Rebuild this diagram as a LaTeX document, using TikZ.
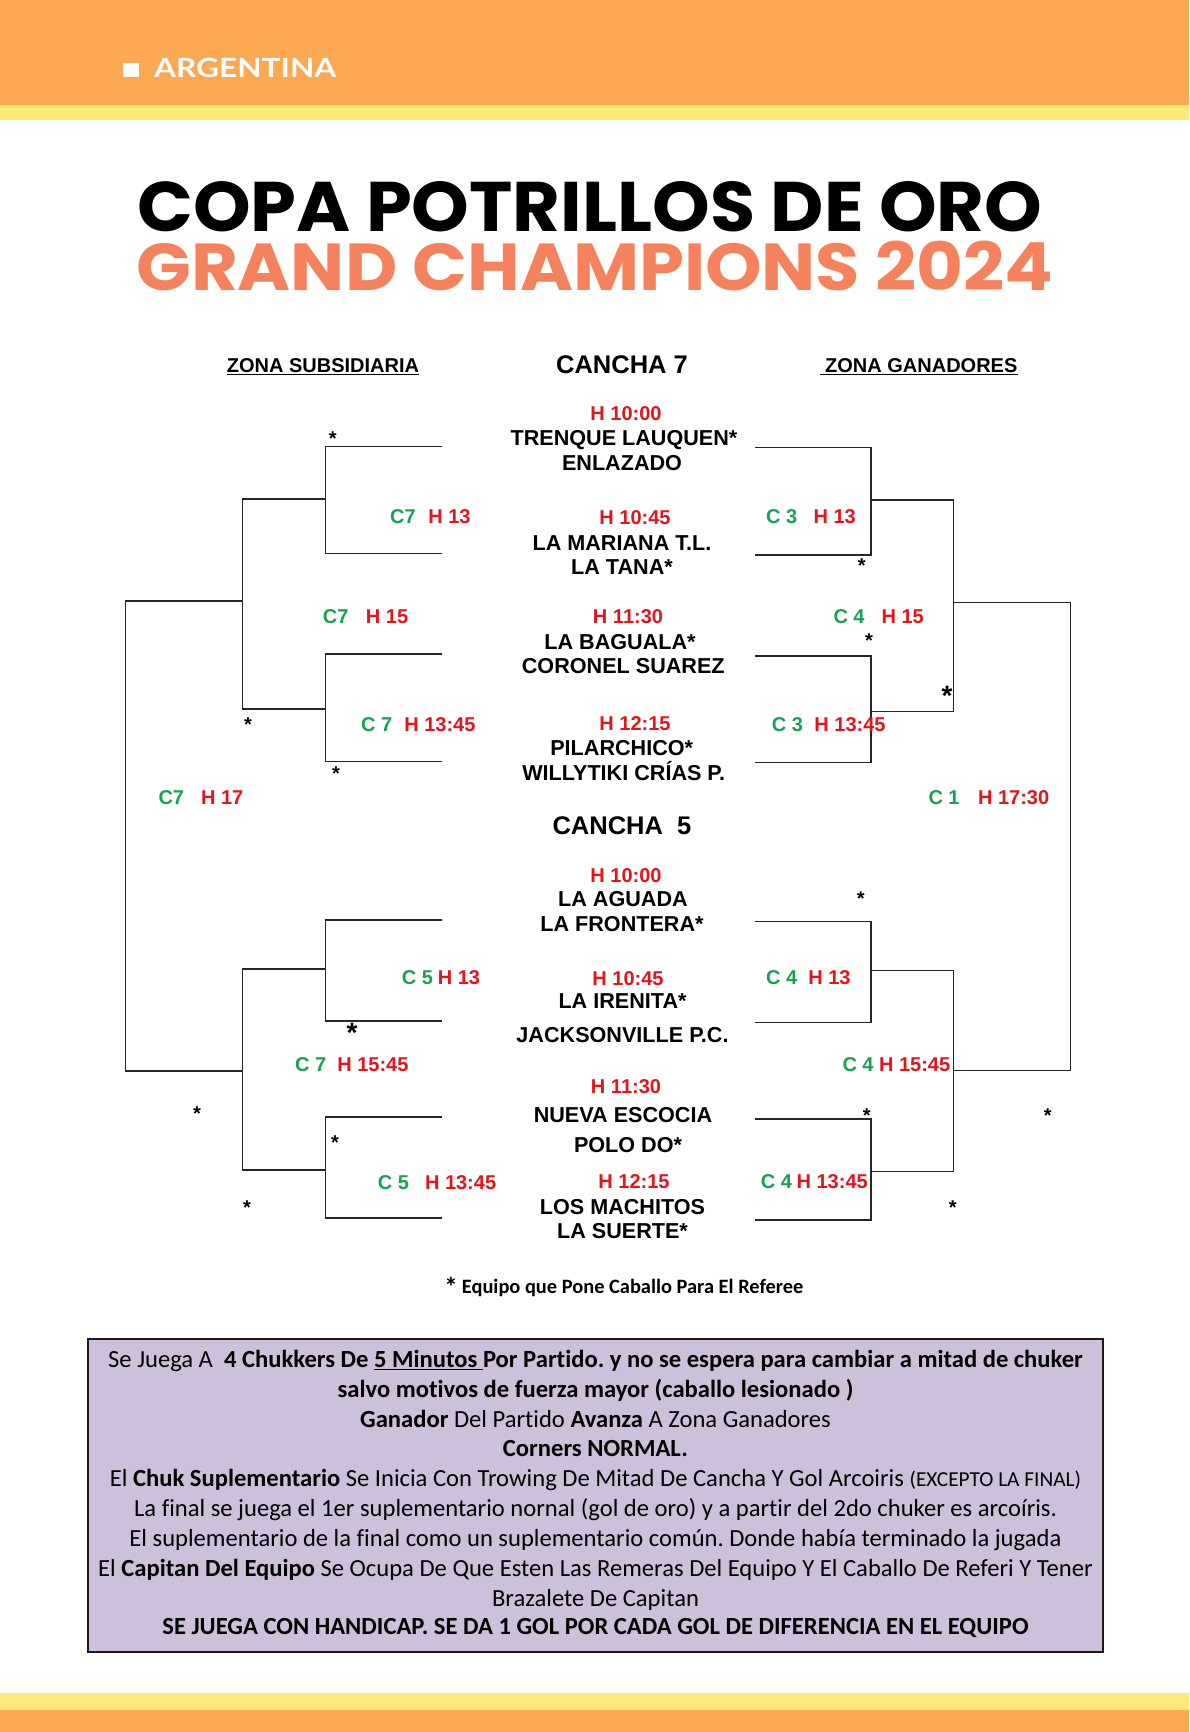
\documentclass[tikz,border=0pt]{standalone}
\usepackage{graphicx}
\usepackage{fontspec}
\setmainfont{Liberation Sans}
\newfontfamily\calib{Carlito}[Ligatures=NoCommon]
\newfontfamily\titlef{Poppins}
\newfontfamily\latof{Lato}
\definecolor{bandor}{HTML}{FDA852}
\definecolor{bandye}{HTML}{FDE878}
\definecolor{coral}{HTML}{F5815D}
\definecolor{grn}{HTML}{17A152}
\definecolor{rd}{HTML}{E2141C}
\definecolor{lav}{HTML}{CCC0DA}
\newcommand{\cG}[1]{\textcolor{grn}{#1}}
\newcommand{\cR}[1]{\textcolor{rd}{#1}}
\begin{document}
\frenchspacing
\begin{tikzpicture}[x=1pt,y=-1pt,
  br/.style={line width=1.4pt,draw=black!85},
  nm/.style={font=\fontsize{21.6}{24}\selectfont\bfseries,anchor=base,yshift=-7.7pt,inner sep=0pt},
  tm/.style={font=\fontsize{20}{24}\selectfont\bfseries,anchor=base,yshift=-7.2pt,inner sep=0pt,text=rd},
  lb/.style={font=\fontsize{20}{24}\selectfont\bfseries,anchor=base west,yshift=-7.2pt,inner sep=0pt},
  st/.style={font=\fontsize{20}{24}\selectfont\bfseries,anchor=north,inner sep=0pt},
  bst/.style={font=\fontsize{28}{30}\selectfont\bfseries,anchor=north,inner sep=0pt},
  hd/.style={font=\fontsize{20}{24}\selectfont\bfseries,anchor=base west,yshift=-7.2pt,inner sep=0pt},
  ca/.style={font=\fontsize{25.5}{28}\selectfont\bfseries,anchor=base,yshift=-9.1pt,inner sep=0pt},
  bx/.style={font=\calib\fontsize{24.6}{28}\selectfont,anchor=base,yshift=-7.9pt,inner sep=0pt},
]
\useasboundingbox (0,0) rectangle (1189,1732);
\fill[white] (0,0) rectangle (1189,1732);
% bands
\fill[bandor] (0,0) rectangle (1189,105);
\fill[bandye] (0,105) rectangle (1189,120);
\fill[bandye] (0,1693) rectangle (1189,1710);
\fill[bandor] (0,1710) rectangle (1189,1732);
\fill[white] (122.7,63) rectangle (139.3,77);
\node[anchor=base west,inner sep=0pt,text=white] (arg) at (154,77.3) {\resizebox{182pt}{19.3pt}{\latof\bfseries ARGENTINA}};
% titles
\node[anchor=base west,inner sep=0pt] (t1) at (137,231.7) {\resizebox{905pt}{50pt}{\titlef\bfseries COPA POTRILLOS DE ORO}};
\node[anchor=base west,inner sep=0pt,text=coral] (t2) at (136,290.5) {\resizebox{917pt}{49.5pt}{\titlef\bfseries GRAND CHAMPIONS 2024}};
% headers
\node[hd] (zs) at (226.7,365) {ZONA SUBSIDIARIA};
\draw[line width=1.5pt] ([yshift=-2pt]zs.south west) -- ([yshift=-2pt]zs.south east);
\node[hd] (zg) at (825,365) {ZONA GANADORES};
\draw[line width=1.5pt] ([xshift=-5pt,yshift=-2pt]zg.south west) -- ([yshift=-2pt]zg.south east);
\node[ca] (c7) at (622,364.5) {CANCHA 7};
\node[ca] (c5) at (622,825) {CANCHA\ \ 5};
% matches cancha 7
\node[tm] (h1) at (626,413) {H 10:00};
\node[nm] (n1) at (624,438) {TRENQUE LAUQUEN*};
\node[nm] (n2) at (622,463) {ENLAZADO};
\node[tm] (h2) at (635,517.7) {H 10:45};
\node[nm] (n3) at (622,543) {LA MARIANA T.L.};
\node[nm] (n4) at (622,567) {LA TANA*};
\node[tm] (h3) at (628,616.7) {H 11:30};
\node[nm] (n5) at (620,641.7) {LA BAGUALA*};
\node[nm] (n6) at (623.3,666) {CORONEL SUAREZ};
\node[tm] (h4) at (635,723) {H 12:15};
\node[nm] (n7) at (621.7,748) {PILARCHICO*};
\node[nm] (n8) at (623.7,773) {WILLYTIKI CRÍAS P.};
% matches cancha 5
\node[tm] (h5) at (626,875) {H 10:00};
\node[nm] (n9) at (623,899) {LA AGUADA};
\node[nm] (n10) at (622,923.5) {LA FRONTERA*};
\node[tm] (h6) at (628,978) {H 10:45};
\node[nm] (n11) at (622.5,1001) {LA IRENITA*};
\node[nm] (n12) at (622.5,1035) {JACKSONVILLE P.C.};
\node[tm] (h7) at (626,1086.7) {H 11:30};
\node[nm] (n13) at (623,1115) {NUEVA ESCOCIA};
\node[nm] (n14) at (628,1145) {POLO DO*};
\node[tm] (h8) at (634,1181.7) {H 12:15};
\node[nm] (n15) at (622.5,1206.7) {LOS MACHITOS};
\node[nm] (n16) at (622.5,1231) {LA SUERTE*};
% left bracket
\coordinate (LA1) at (442,446.7);
\coordinate (LA2) at (442,553.3);
\coordinate (LAm) at (325.7,499);
\coordinate (LB1) at (442,654);
\coordinate (LB2) at (442,761.3);
\coordinate (LBm) at (325.7,709);
\coordinate (LABm) at (242.7,601);
\coordinate (LC1) at (442,920);
\coordinate (LC2) at (442,1021);
\coordinate (LCm) at (325.7,969);
\coordinate (LD1) at (442,1117);
\coordinate (LD2) at (442,1218);
\coordinate (LDm) at (325.7,1170);
\coordinate (LCDm) at (242.7,1071);
\coordinate (Lout) at (125.7,836);
\draw[br] (LA1) -| (LAm) |- (LA2);
\draw[br] (LB1) -| (LBm) |- (LB2);
\draw[br] (LAm) -| (LABm) |- (LBm);
\draw[br] (LC1) -| (LCm) |- (LC2);
\draw[br] (LD1) -| (LDm) |- (LD2);
\draw[br] (LCm) -| (LCDm) |- (LDm);
\draw[br] (LABm) -| (Lout) |- (LCDm);
% right bracket
\coordinate (RA1) at (755,447.7);
\coordinate (RA2) at (755,555);
\coordinate (RAm) at (871,500);
\coordinate (RB1) at (755,656);
\coordinate (RB2) at (755,762.7);
\coordinate (RBm) at (871,711.7);
\coordinate (RABm) at (953.3,602.3);
\coordinate (RC1) at (755,921.7);
\coordinate (RC2) at (755,1022.7);
\coordinate (RCm) at (871,970.7);
\coordinate (RD1) at (755,1119);
\coordinate (RD2) at (755,1220);
\coordinate (RDm) at (871,1171.7);
\coordinate (RCDm) at (953.3,1070.7);
\coordinate (Rout) at (1070.7,836);
\draw[br] (RA1) -| (RAm) |- (RA2);
\draw[br] (RB1) -| (RBm) |- (RB2);
\draw[br] (RAm) -| (RABm) |- (RBm);
\draw[br] (RC1) -| (RCm) |- (RC2);
\draw[br] (RD1) -| (RDm) |- (RD2);
\draw[br] (RCm) -| (RCDm) |- (RDm);
\draw[br] (RABm) -| (Rout) |- (RCDm);
% labels left
\node[lb] (l1) at (390,516.7) {\cG{C7}\hspace{12.5pt}\cR{H 13}};
\node[lb] (l2) at (322.7,616) {\cG{C7}\hspace{17.5pt}\cR{H 15}};
\node[lb] (l3) at (361,724) {\cG{C 7}\hspace{12pt}\cR{H 13:45}};
\node[lb] (l4) at (158.3,797) {\cG{C7}\hspace{17pt}\cR{H 17}};
\node[lb] (l5) at (401.7,977) {\cG{C 5}\hspace{4.8pt}\cR{H 13}};
\node[lb] (l6) at (295,1064) {\cG{C 7}\hspace{11pt}\cR{H 15:45}};
\node[lb] (l7) at (377.7,1182) {\cG{C 5}\hspace{16pt}\cR{H 13:45}};
% labels right
\node[lb] (r1) at (766,516.7) {\cG{C 3}\hspace{16.3pt}\cR{H 13}};
\node[lb] (r2) at (833.3,616) {\cG{C 4}\hspace{17pt}\cR{H 15}};
\node[lb] (r3) at (771.7,724.3) {\cG{C 3}\hspace{11.4pt}\cR{H 13:45}};
\node[lb] (r4) at (928.3,797) {\cG{C 1}\hspace{18.4pt}\cR{H 17:30}};
\node[lb] (r5) at (766,977) {\cG{C 4}\hspace{11pt}\cR{H 13}};
\node[lb] (r6) at (842.3,1064) {\cG{C 4}\hspace{5.4pt}\cR{H 15:45}};
\node[lb] (r7) at (760.7,1181.7) {\cG{C 4}\hspace{4.6pt}\cR{H 13:45}};
% stars
\node[st] (s1) at (332.7,431.1) {*};
\node[st] (s2) at (248,717.1) {*};
\node[st] (s3) at (336,766.1) {*};
\node[st] (s4) at (197,1106.1) {*};
\node[st] (s5) at (335,1135.1) {*};
\node[st] (s6) at (247,1200.1) {*};
\node[st] (s7) at (861.7,558.8) {*};
\node[st] (s8) at (869,633.1) {*};
\node[st] (s9) at (860.7,891.4) {*};
\node[st] (s10) at (866.7,1108.1) {*};
\node[st] (s11) at (1047.7,1108.1) {*};
\node[st] (s12) at (952.7,1200.1) {*};
\node[bst] (s13) at (352,1023) {*};
\node[bst] (s14) at (947,686) {*};
% footnote
\node[font=\calib\bfseries\fontsize{27}{27}\selectfont,anchor=north,inner sep=0pt] (fst) at (451,1277) {*};
\node[font=\calib\bfseries\fontsize{20.4}{22}\selectfont,anchor=base west,inner sep=0pt] (fn) at (461.7,1293.3) {Equipo que Pone Caballo Para El Referee};
% rules box
\node[draw=black!90,fill=lav,line width=2pt,minimum width=1015pt,minimum height=312.4pt,inner sep=0pt] (box) at (595.5,1495.5) {};
\node[bx] (b1) at (595.5,1359.3) {Se Juega A\ \ \textbf{4 Chukkers De \underline{5 Minutos\ }Por Partido.\ y no se espera para cambiar a mitad de chuker}};
\node[bx] (b2) at (595.5,1389.3) {\textbf{salvo motivos de fuerza mayor (caballo lesionado )}};
\node[bx] (b3) at (595.5,1419.3) {\textbf{Ganador} Del Partido \textbf{Avanza} A Zona Ganadores};
\node[bx] (b4) at (595.5,1448.3) {\textbf{Corners NORMAL.}};
\node[bx] (b5) at (595.5,1478.3) {El \textbf{Chuk Suplementario} Se Inicia Con Trowing De Mitad De Cancha Y Gol Arcoiris {\fontsize{21.3}{24}\selectfont(EXCEPTO LA FINAL)}};
\node[bx] (b6) at (595.5,1509) {La final se juega el 1er suplementario nornal (gol de oro) y a partir del 2do chuker es arcoíris.};
\node[bx] (b7) at (595.5,1538.3) {El suplementario de la final como un suplementario común. Donde había terminado la jugada};
\node[bx] (b8) at (595.5,1568.3) {El \textbf{Capitan Del Equipo} Se Ocupa De Que Esten Las Remeras Del Equipo Y El Caballo De Referi Y Tener};
\node[bx] (b9) at (595.5,1598.3) {Brazalete De Capitan};
\node[bx] (b10) at (595.5,1626.7) {\textbf{SE JUEGA CON HANDICAP. SE DA 1 GOL POR CADA GOL DE DIFERENCIA EN EL EQUIPO}};
\end{tikzpicture}
\end{document}
